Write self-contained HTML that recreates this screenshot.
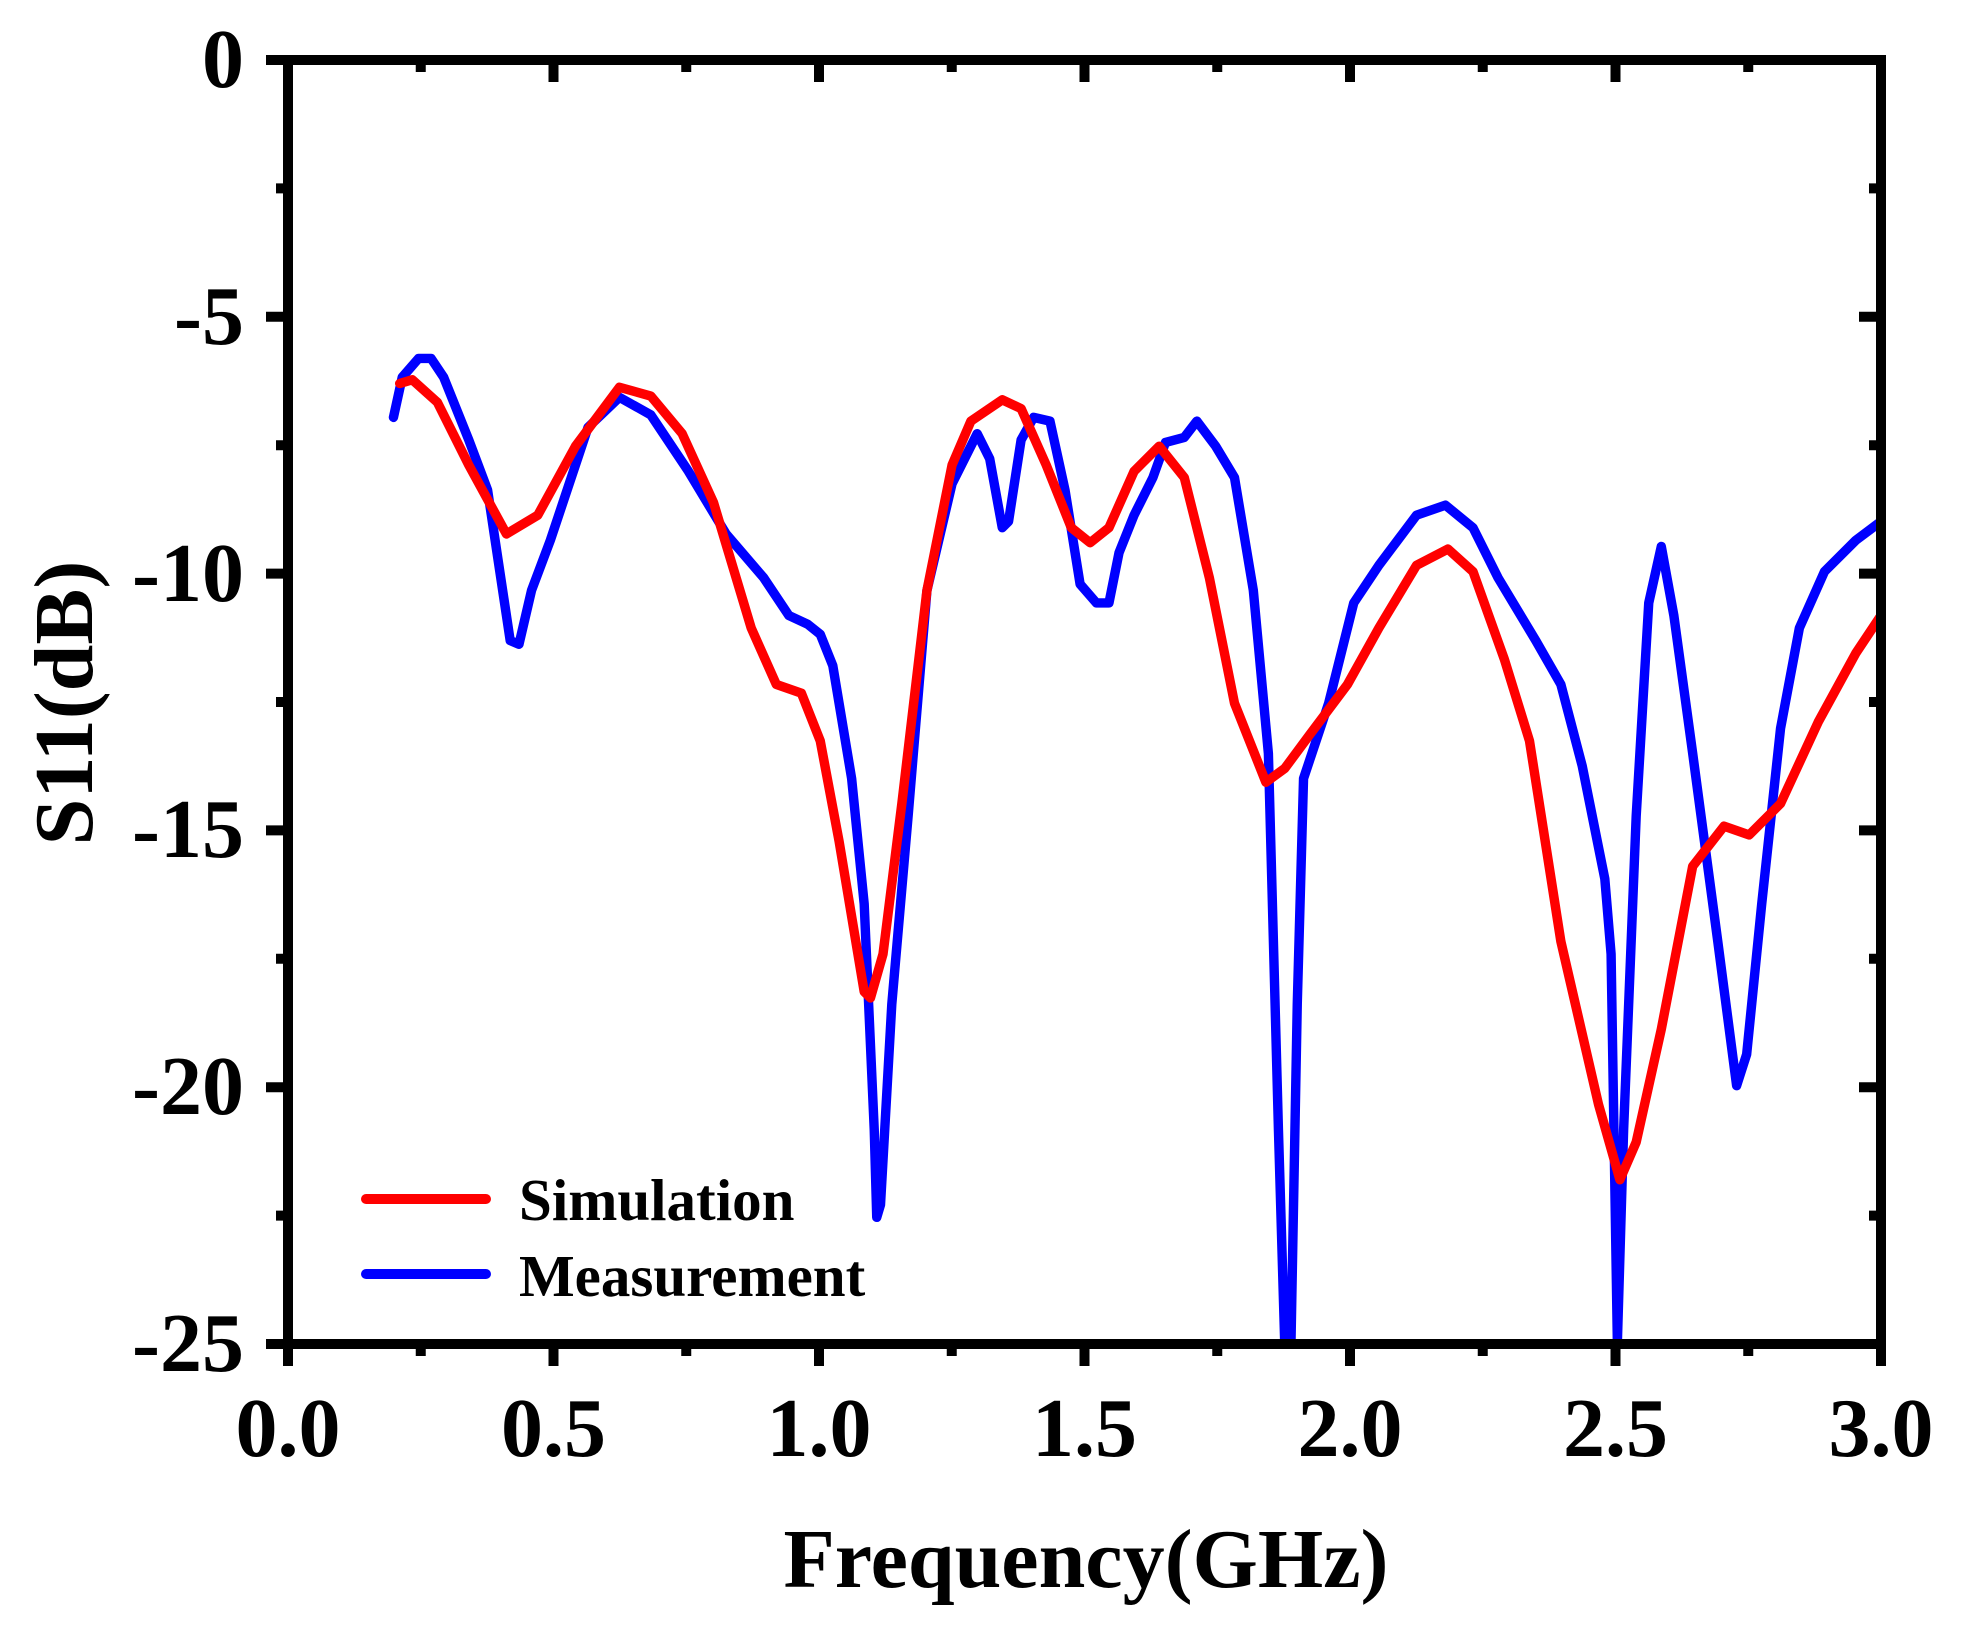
<!DOCTYPE html>
<html><head><meta charset="utf-8"><style>
html,body{margin:0;padding:0;background:#fff;}
svg{display:block;}
text{font-family:"Liberation Serif",serif;font-weight:bold;fill:#000;}
</style></head><body>
<svg width="1964" height="1641" viewBox="0 0 1964 1641" xmlns="http://www.w3.org/2000/svg">
<rect width="1964" height="1641" fill="#fff"/>
<g transform="translate(288,60) scale(1.2553,1.2539) translate(-231,-47)" fill="none" stroke-width="7.5" stroke-linejoin="round" stroke-linecap="round">
<polyline stroke="#0000ff" points="315,332 322,300 335,285 345,285 355,300 375,350 390,390 402,470 408,510 415,513 425,470 440,430 470,340 495,316 520,330 550,375 580,425 610,460 630,490 645,497 655,505 665,530 680,620 690,720 698,900 700,970 703,960 712,800 725,650 740,470 760,385 780,345 790,365 800,420 805,415 815,350 825,332 838,335 850,390 862,465 875,480 885,480 893,440 905,410 920,380 930,352 945,348 955,335 970,355 985,380 1000,470 1012,600 1020,900 1025,1070 1030,1070 1035,800 1040,620 1060,560 1080,480 1100,450 1130,410 1153,402 1175,420 1195,460 1225,510 1245,545 1262,610 1280,700 1285,760 1290,1070 1295,900 1305,650 1315,480 1325,435 1335,490 1350,600 1370,750 1385,865 1393,840 1405,720 1420,580 1435,500 1455,455 1480,430 1500,415"/>
<polyline stroke="#ff0000" points="320,305 330,302 350,320 375,370 405,425 430,410 460,355 495,308 520,315 545,345 570,400 600,500 620,545 640,552 655,590 670,670 690,790 695,795 705,760 720,640 740,470 760,370 775,335 800,318 815,325 835,370 855,420 870,432 885,420 905,375 925,355 945,380 965,460 985,560 1010,623 1025,612 1045,585 1075,545 1100,500 1130,450 1155,437 1175,455 1200,525 1220,590 1245,750 1275,880 1292,940 1305,910 1325,820 1350,690 1375,658 1395,665 1420,640 1450,575 1480,520 1500,490"/>
</g>
<rect x="288" y="60" width="1593" height="1284" fill="none" stroke="#000" stroke-width="10"/>
<g stroke="#000" stroke-width="10">
<path d="M288,1344v22M553.5,1344v22M819,1344v22M1084.5,1344v22M1350,1344v22M1615.5,1344v22M1881,1344v22"/>
<path d="M420.75,1344v12M686.25,1344v12M951.75,1344v12M1217.25,1344v12M1482.75,1344v12M1748.25,1344v12"/>
<path d="M553.5,60v22M819,60v22M1084.5,60v22M1350,60v22M1615.5,60v22"/>
<path d="M420.75,60v12M686.25,60v12M951.75,60v12M1217.25,60v12M1482.75,60v12M1748.25,60v12"/>
<path d="M288,60h-22M288,316.8h-22M288,573.6h-22M288,830.4h-22M288,1087.2h-22M288,1344h-22"/>
<path d="M288,188.4h-12M288,445.2h-12M288,702h-12M288,958.8h-12M288,1215.6h-12"/>
<path d="M1881,316.8h-22M1881,573.6h-22M1881,830.4h-22M1881,1087.2h-22"/>
<path d="M1881,188.4h-12M1881,445.2h-12M1881,702h-12M1881,958.8h-12M1881,1215.6h-12"/>
</g>
<g font-size="84" text-anchor="end">
<text x="244" y="87">0</text>
<text x="244" y="344">-5</text>
<text x="244" y="601">-10</text>
<text x="244" y="857">-15</text>
<text x="244" y="1114">-20</text>
<text x="244" y="1371">-25</text>
</g>
<g font-size="84" text-anchor="middle">
<text x="288" y="1456">0.0</text>
<text x="553.5" y="1456">0.5</text>
<text x="819" y="1456">1.0</text>
<text x="1084.5" y="1456">1.5</text>
<text x="1350" y="1456">2.0</text>
<text x="1615.5" y="1456">2.5</text>
<text x="1881" y="1456">3.0</text>
</g>
<text x="1086" y="1587" font-size="84" text-anchor="middle">Frequency(GHz)</text>
<text transform="translate(92,703) rotate(-90)" font-size="84" text-anchor="middle">S11(dB)</text>
<line x1="366" y1="1199" x2="486" y2="1199" stroke="#ff0000" stroke-width="10" stroke-linecap="round"/>
<line x1="366" y1="1274" x2="486" y2="1274" stroke="#0000ff" stroke-width="10" stroke-linecap="round"/>
<text x="519" y="1220" font-size="59">Simulation</text>
<text x="519" y="1296" font-size="59">Measurement</text>
</svg>
</body></html>
